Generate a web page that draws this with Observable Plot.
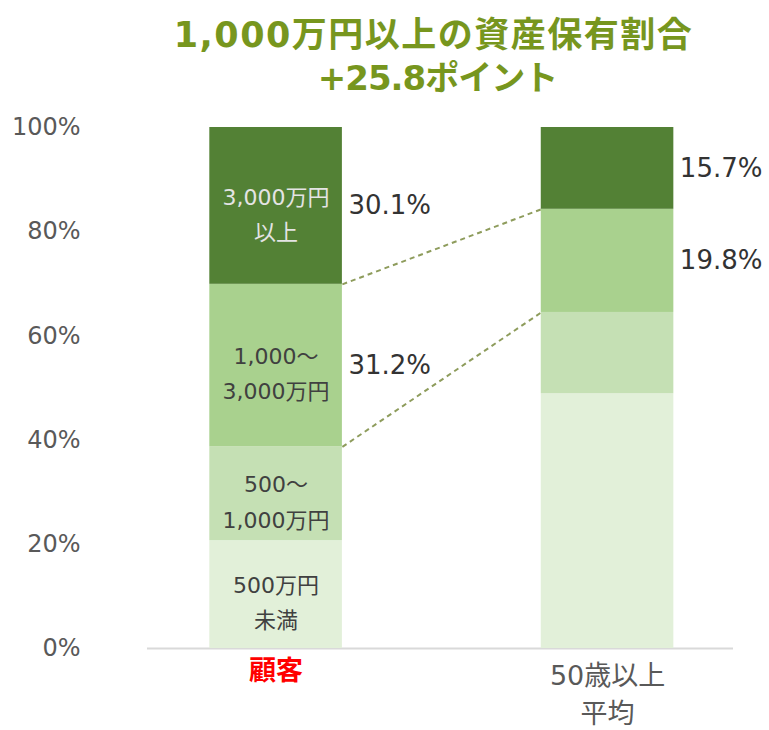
<!DOCTYPE html>
<html><head><meta charset="utf-8">
<script src="https://cdn.jsdelivr.net/npm/d3@7"></script>
<script src="https://cdn.jsdelivr.net/npm/@observablehq/plot@0.6"></script>
<style>
body{margin:0;background:#fff;font-family:"DejaVu Sans","Noto Sans CJK JP",sans-serif;}
#title{height:108px;box-sizing:border-box;padding:14px 0 0 0;width:769px;color:#77961e;font-weight:bold;}
#title div{height:43px;line-height:43px;text-align:center;white-space:nowrap;}
#t1{font-size:35px;letter-spacing:1.5px;padding-left:98px;}
#t2{font-size:34px;letter-spacing:-1px;padding-left:106px;}
</style></head><body>
<div id="title"><div id="t1">1,000万円以上の資産保有割合</div><div id="t2">+25.8ポイント</div></div>
<div id="chart"></div>
<script>
const categories = ["顧客", "50歳以上\n平均"];
const segments = ["500万円未満", "500～1,000万円", "1,000～3,000万円", "3,000万円以上"];
const segmentLabels = ["500万円\n未満", "500～\n1,000万円", "1,000～\n3,000万円", "3,000万円\n以上"];
const customerShares = [20.7, 18.0, 31.2, 30.1];
const age50AvgShares = [48.9, 15.6, 19.8, 15.7];
const yTicks = [0, 20, 40, 60, 80, 100];

const colors = ["#E2F0D9", "#C5E0B4", "#A9D18E", "#538135"];
const hw = 0.2;
const font = '"DejaVu Sans", "Noto Sans CJK JP", sans-serif';

const series = [customerShares, age50AvgShares];
const rows = [];
series.forEach((vals, i) => {
  let c = 0;
  vals.forEach((v, j) => { rows.push({i, j, seg: segments[j], v, y1: c, y2: c + v}); c += v; });
});
const links = [2, 3].map(j => {
  const a = rows.find(r => r.i === 0 && r.j === j);
  const b = rows.find(r => r.i === 1 && r.j === j);
  return {x1: 0 + hw, x2: 1 - hw, y1: a.y1, y2: b.y1};
});
const valueRows = rows.filter(r => r.j >= 2);
const inBar = rows.filter(r => r.i === 0);

const chart = Plot.plot({
  width: 769, height: 622,
  marginTop: 19, marginBottom: 82, marginLeft: 147, marginRight: 36,
  x: {domain: [-0.388, 1.38], axis: null},
  y: {domain: [0, 100], axis: null},
  color: {domain: segments, range: colors},
  style: {fontFamily: font, background: "white"},
  marks: [
    Plot.axisY({ticks: yTicks, tickFormat: d => d + "%", tickSize: 0, tickPadding: 67, fontSize: 24, color: "#595959", label: null}),
    Plot.ruleY([0], {stroke: "#d9d9d9", strokeWidth: 2}),
    Plot.link(links, {x1: "x1", y1: "y1", x2: "x2", y2: "y2", stroke: "#8e9c5c", strokeWidth: 2, strokeDasharray: "5,4"}),
    Plot.rect(rows, {x1: d => d.i - hw, x2: d => d.i + hw, y1: "y1", y2: "y2", fill: "seg"}),
    Plot.text(inBar, {x: d => d.i, y: d => (d.y1 + d.y2) / 2, text: d => segmentLabels[d.j], dy: 5, lineHeight: 1.6, fontSize: 22,
      fill: d => d.j === 3 ? "#e4e4e4" : "#404040"}),
    Plot.text(valueRows, {x: d => d.i + hw, y: d => (d.y1 + d.y2) / 2, text: d => d.v.toFixed(1) + "%", textAnchor: "start", dx: 6, fontSize: 26, fill: "#333333"}),
    Plot.text([0], {x: d => d, y: 0, text: d => categories[d], lineAnchor: "top", dy: 12, fontSize: 27, fontWeight: "bold", fill: "#ff0000"}),
    Plot.text([1], {x: d => d, y: 0, text: d => categories[d], lineAnchor: "top", dy: 10, fontSize: 27, lineHeight: 1.4, fill: "#595959"})
  ]
});
document.getElementById("chart").appendChild(chart);
</script>
</body></html>
